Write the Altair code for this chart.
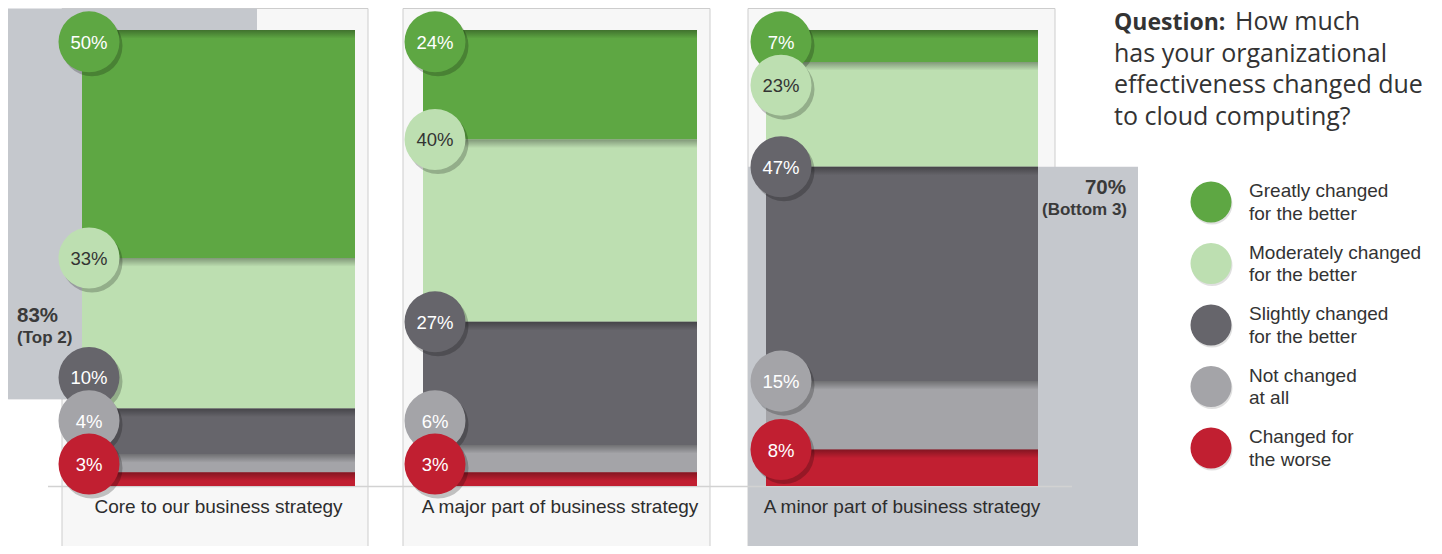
import altair as alt
import pandas as pd

# ---------------- data ----------------
categories = ["Core to our business strategy", "A major part of business strategy", "A minor part of business strategy"]
responses = ["Greatly changed for the better", "Moderately changed for the better",
             "Slightly changed for the better", "Not changed at all", "Changed for the worse"]
greatly = [50, 24, 7]
moderately = [33, 40, 23]
slightly = [10, 27, 47]
not_changed = [4, 6, 15]
worse = [3, 3, 8]
legend_labels = ["Greatly changed\nfor the better", "Moderately changed\nfor the better",
                 "Slightly changed\nfor the better", "Not changed\nat all", "Changed for\nthe worse"]
question_head = "Question:"
question_lines = ["How much", "has your organizational", "effectiveness changed due", "to cloud computing?"]

# ---------------- style / layout ----------------
COLORS = ["#5ea743", "#bddfb1", "#66656b", "#a4a4a8", "#c11f31"]
LABEL_COLORS = ["#ffffff", "#333333", "#ffffff", "#ffffff", "#ffffff"]
HILITE = "#c5c8cd"
CARD = "#f7f7f7"
TEXT = "#333333"

W, H = 1426, 538
BASE_Y, PX_PER_PCT = 486.0, 4.56     # page y of 0 %, pixels per percent


def py(page_y):
    return (BASE_Y - page_y) / PX_PER_PCT


BAR_X = [(82, 355), (423, 697), (766, 1038)]
CARD_X = [(62, 368), (403, 710), (748, 1055)]
CIRCLE_X = [89, 435, 781]
CARD_TOP, CARD_BOTTOM = 8.5, 552

xs = alt.Scale(domain=[8, 8 + W], nice=False, zero=False)
ys = alt.Scale(domain=[py(8 + H), py(8)], nice=False, zero=False)
cs = alt.Scale(domain=responses, range=COLORS)

series = [greatly, moderately, slightly, not_changed, worse]


def place(tops, gap=9.5, lo=4.8, hi=97.4):
    yv = [min(max(t, lo), hi) for t in tops]
    for i in range(len(yv) - 2, -1, -1):
        yv[i] = max(yv[i], yv[i + 1] + gap)
    yv = [min(v, hi) for v in yv]
    for i in range(1, len(yv)):
        yv[i] = min(yv[i], yv[i - 1] - gap)
    return yv


seg_rows, circ_rows, strip_rows, bar_rows, label_rows = [], [], [], [], []
for i, cat in enumerate(categories):
    cum = 100.0
    tops = []
    for j, resp in enumerate(responses):
        v = series[j][i]
        top, bot = cum, cum - v
        cum = bot
        tops.append(top)
        seg_rows.append(dict(x=BAR_X[i][0], x2=BAR_X[i][1], y=top, y2=bot, resp=resp))
        strip_rows.append(dict(x=BAR_X[i][0], x2=BAR_X[i][1], y=top, y2=max(bot, top - 1.9)))
    ypos = place(tops)
    for j, resp in enumerate(responses):
        circ_rows.append(dict(x=CIRCLE_X[i], y=ypos[j], resp=resp,
                              label=f"{series[j][i]}%", tc=LABEL_COLORS[j]))
    bar_rows.append(dict(x=BAR_X[i][0], x2=BAR_X[i][1], y=100, y2=0))
    label_rows.append(dict(x=(BAR_X[i][0] + BAR_X[i][1]) / 2, y=py(507), label=cat))

segs = pd.DataFrame(seg_rows)
circs = pd.DataFrame(circ_rows)
strips = pd.DataFrame(strip_rows)
bars = pd.DataFrame(bar_rows)
cat_labels = pd.DataFrame(label_rows)

top2 = greatly[0] + moderately[0]
bottom3 = slightly[2] + not_changed[2] + worse[2]

cards = pd.DataFrame([dict(x=a, x2=b, y=py(CARD_TOP), y2=py(CARD_BOTTOM)) for a, b in CARD_X])
hilites = pd.DataFrame([
    dict(x=5, x2=257, y=py(CARD_TOP), y2=(100 - top2) + 2),
    dict(x=748, x2=1138, y=bottom3, y2=py(CARD_BOTTOM)),
])
axis_line = pd.DataFrame([dict(x=48, x2=1072, y=py(486.5))])


def X(f="x"):
    return alt.X(f"{f}:Q", scale=xs, axis=None)


def Y(f="y"):
    return alt.Y(f"{f}:Q", scale=ys, axis=None)


def rect_layer(df, **kw):
    return alt.Chart(df).mark_rect(**kw).encode(x=X(), x2="x2:Q", y=Y(), y2="y2:Q")


layers = []
# card shadows + cards
layers.append(rect_layer(cards, fill="#000000", opacity=0.07, xOffset=4, yOffset=4))
layers.append(rect_layer(cards, fill="#000000", opacity=0.08, xOffset=2, yOffset=2))
layers.append(rect_layer(cards, fill=CARD, stroke="#cdcdcd", strokeWidth=1))
# highlight boxes
layers.append(rect_layer(hilites, fill="#000000", opacity=0.07, xOffset=4, yOffset=4))
layers.append(rect_layer(hilites, fill="#000000", opacity=0.08, xOffset=2, yOffset=2))
layers.append(rect_layer(hilites, fill=HILITE))
# baseline
layers.append(alt.Chart(axis_line).mark_rule(color="#d2d2d2", strokeWidth=1.5).encode(
    x=X(), x2="x2:Q", y=Y()))
# bar shadow
layers.append(rect_layer(bars, fill="#000000", opacity=0.10, xOffset=4, yOffset=3))
layers.append(rect_layer(bars, fill="#000000", opacity=0.12, xOffset=2, yOffset=1))
# segments
layers.append(alt.Chart(segs).mark_rect().encode(
    x=X(), x2="x2:Q", y=Y(), y2="y2:Q",
    color=alt.Color("resp:N", scale=cs, legend=None)))
# shadow strips at segment tops
grad = alt.LinearGradient(
    gradient="linear",
    stops=[alt.GradientStop(color="rgba(0,0,0,0.32)", offset=0),
           alt.GradientStop(color="rgba(0,0,0,0)", offset=1)],
    x1=0, x2=0, y1=0, y2=1)
layers.append(rect_layer(strips, fill=grad))
# circles (Vega symbol diameter = sqrt(size))
CS = 61 ** 2
layers.append(alt.Chart(circs).mark_circle(size=CS, color="#000000", opacity=0.22,
                                           xOffset=3, yOffset=4).encode(x=X(), y=Y()))
layers.append(alt.Chart(circs).mark_circle(size=CS, opacity=1).encode(
    x=X(), y=Y(), color=alt.Color("resp:N", scale=cs, legend=None)))
layers.append(alt.Chart(circs).mark_text(font="Liberation Sans", fontSize=18.5,
                                         align="center", baseline="middle", dy=1).encode(
    x=X(), y=Y(), text="label:N", color=alt.Color("tc:N", scale=None)))
# category labels
layers.append(alt.Chart(cat_labels).mark_text(font="Liberation Sans", fontSize=19, color="#2d2d2d",
                                              align="center", baseline="middle").encode(
    x=X(), y=Y(), text="label:N"))
# group labels
grp = pd.DataFrame([
    dict(x=17, y=py(322), label=f"{top2}%", size=20.5, align="left"),
    dict(x=17, y=py(343), label="(Top 2)", size=17, align="left"),
    dict(x=1126, y=py(194), label=f"{bottom3}%", size=20.5, align="right"),
    dict(x=1127, y=py(215), label="(Bottom 3)", size=17, align="right"),
])
for al in ["left", "right"]:
    layers.append(alt.Chart(grp[grp["align"] == al]).mark_text(
        font="Liberation Sans", fontWeight="bold", color="#3a3a3a", align=al,
        baseline="alphabetic").encode(
        x=X(), y=Y(), text="label:N", size=alt.Size("size:Q", scale=None, legend=None)))
# question
q1 = pd.DataFrame([dict(x=1114, y=py(30), label=question_head)])
q2 = pd.DataFrame([dict(x=1235, y=py(30), label=question_lines[0])])
q3 = pd.DataFrame([dict(x=1114, y=py(61.5), label="\n".join(question_lines[1:]))])
layers.append(alt.Chart(q1).mark_text(font="Open Sans", fontWeight="bold", fontSize=23, color=TEXT,
                                      align="left", baseline="alphabetic").encode(x=X(), y=Y(), text="label:N"))
layers.append(alt.Chart(q2).mark_text(font="Open Sans", fontSize=25, color=TEXT,
                                      align="left", baseline="alphabetic").encode(x=X(), y=Y(), text="label:N"))
layers.append(alt.Chart(q3).mark_text(font="Open Sans", fontSize=25, color=TEXT, lineBreak="\n",
                                      lineHeight=31.5, align="left", baseline="alphabetic").encode(
    x=X(), y=Y(), text="label:N"))
# legend
leg = pd.DataFrame([dict(x=1211, y=py(202 + k * 61.5), ty=py(197 + k * 61.5), tx=1249,
                         resp=r, label=legend_labels[k]) for k, r in enumerate(responses)])
LS = 41 ** 2
layers.append(alt.Chart(leg).mark_circle(size=LS, color="#000000", opacity=0.12,
                                         xOffset=1, yOffset=2).encode(x=X(), y=Y()))
layers.append(alt.Chart(leg).mark_circle(size=LS, opacity=1).encode(
    x=X(), y=Y(), color=alt.Color("resp:N", scale=cs, legend=None)))
layers.append(alt.Chart(leg).mark_text(font="Liberation Sans", fontSize=19, color=TEXT, lineBreak="\n",
                                       lineHeight=22.5, align="left", baseline="alphabetic").encode(
    x=X("tx"), y=Y("ty"), text="label:N"))

chart = alt.layer(*layers).properties(
    width=W, height=H,
    autosize=alt.AutoSizeParams(type="none"),
    padding=0, background="white",
).configure_view(strokeWidth=0)

chart.save("out.html", embed_options={"renderer": "svg", "actions": False})
